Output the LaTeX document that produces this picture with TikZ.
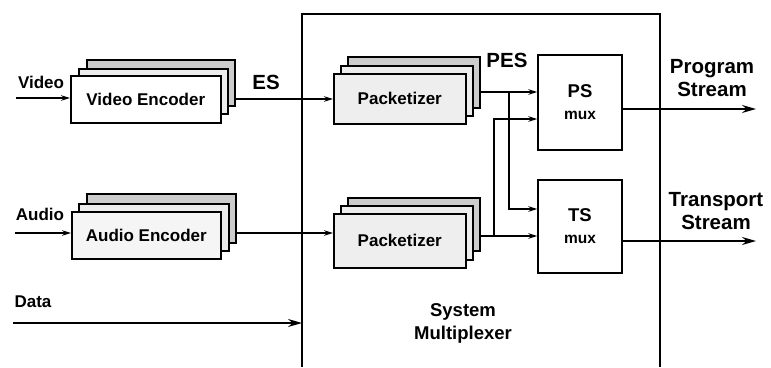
\documentclass[tikz,border=0pt]{standalone}
\usepackage{fontspec}
\setmainfont{Liberation Sans}
\usetikzlibrary{arrows.meta}
\begin{document}
\begin{tikzpicture}[x=1pt,y=-1pt,
  every node/.style={font=\bfseries},
  box/.style={draw, line width=1.6pt, inner sep=0pt, anchor=north west},
  frontbox/.style={box, fill=white},
  midbox/.style={box, fill=gray!15},
  backbox/.style={box, fill=gray!40},
  pfront/.style={box, fill=gray!13},
  muxbox/.style={draw, line width=1.4pt, fill=white, inner sep=0pt, align=center,
    font=\bfseries\fontsize{15.5}{22}\selectfont},
  conn/.style={line width=1.5pt},
  arr/.style={conn, -{Stealth[length=9pt,width=5.5pt]}},
  bigarr/.style={conn, -{Stealth[length=14pt,width=8pt]}},
  lbl/.style={font=\bfseries\fontsize{17}{20}\selectfont},
  biglbl/.style={font=\bfseries\fontsize{20.5}{23}\selectfont, align=center}
]
\useasboundingbox (0,0) rectangle (771,367);

% system multiplexer frame (open at the bottom)
\draw[line width=1.2pt] (302,367) -- (302,14) -- (660,14) -- (660,367);

% video encoder stack
\node[backbox, minimum width=148pt, minimum height=46pt] (venc3) at (86,59) {};
\node[midbox, minimum width=149pt, minimum height=45pt] (venc2) at (78,68) {};
\node[frontbox, minimum width=150pt, minimum height=47pt, lbl] (venc) at (70,75) {Video Encoder};

% audio encoder stack
\node[backbox, minimum width=149pt, minimum height=49pt] (aenc3) at (86,193) {};
\node[midbox, minimum width=150pt, minimum height=47pt] (aenc2) at (78,203) {};
\node[frontbox, fill=gray!8, minimum width=149pt, minimum height=47pt, lbl] (aenc) at (71,211) {Audio Encoder};

% packetizer stacks
\node[backbox, minimum width=132pt, minimum height=51pt] (pk13) at (347,56) {};
\node[midbox, minimum width=132pt, minimum height=50pt] (pk12) at (340,65) {};
\node[pfront, minimum width=132pt, minimum height=50pt, lbl] (pk1) at (333,73) {Packetizer};

\node[backbox, minimum width=132pt, minimum height=53pt] (pk23) at (347,197) {};
\node[midbox, minimum width=132pt, minimum height=54pt] (pk22) at (340,205) {};
\node[pfront, minimum width=132pt, minimum height=54pt, lbl] (pk2) at (333,213) {Packetizer};

% multiplexers
\node[muxbox, minimum width=84pt, minimum height=95pt] (psmux) at (580,102.5)
  {{\fontsize{18.5}{22}\selectfont PS}\\mux};
\node[muxbox, minimum width=84pt, minimum height=93pt] (tsmux) at (580,226.5)
  {{\fontsize{18.5}{22}\selectfont TS}\\mux};

% input labels and arrows
\node[lbl] (vlbl) at (41,82) {Video};
\node[lbl] (albl) at (40,214) {Audio};
\node[lbl] (dlbl) at (33,302) {Data};
\coordinate (vin) at (16,98);
\coordinate (ain) at (15,233);
\coordinate (din) at (13,323);
\draw[arr] (vin) -- (vin -| venc.west);
\draw[arr] (ain) -- (ain -| aenc.west);
\draw[bigarr] (din) -- (302,323);

% elementary streams into the packetizers
\node[biglbl] (es) at (266,82) {ES};
\coordinate (vout) at (234,99);
\coordinate (aout) at (235,233);
\draw[arr] (vout) -- (vout -| pk1.west);
\draw[arr] (aout) -- (aout -| pk2.west);

% packetized elementary streams into the muxes
\node[biglbl] (pes) at (507,60) {PES};
\coordinate (p1o) at (479,92);
\coordinate (p2o) at (479,236);
\coordinate (b1) at (509,92);
\coordinate (b2) at (494,236);
\coordinate (psin2) at (0,119);
\coordinate (tsin1) at (0,209);
\draw[arr] (p1o) -- (p1o -| psmux.west);
\draw[arr] (p2o) -- (p2o -| tsmux.west);
\draw[arr] (b1) |- (tsmux.west |- tsin1);
\draw[arr] (b2) |- (psmux.west |- psin2);

% output streams
\coordinate (psout) at (0,109);
\coordinate (tsout) at (0,241);
\coordinate (rend) at (756,0);
\draw[bigarr] (psmux.east |- psout) -- (rend |- psout);
\draw[bigarr] (tsmux.east |- tsout) -- (rend |- tsout);
\node[biglbl] (pslbl) at (712,78) {Program\\Stream};
\node[biglbl] (tslbl) at (716,211) {Transport\\Stream};

\node[biglbl, font=\bfseries\fontsize{18.5}{23}\selectfont] (sys) at (463,323) {System\\Multiplexer};
\end{tikzpicture}
\end{document}
